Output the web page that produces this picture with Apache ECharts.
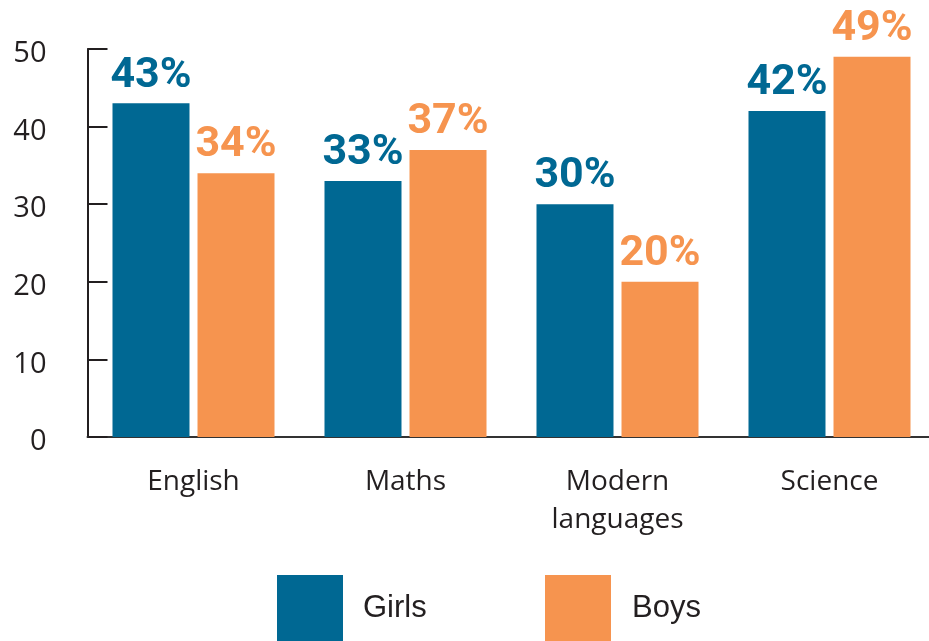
<!DOCTYPE html>
<html>
<head>
<meta charset="utf-8">
<script src="https://cdn.jsdelivr.net/npm/echarts@6/dist/echarts.min.js"></script>
<style>html,body{margin:0;padding:0;background:#fff;overflow:hidden}#c{width:940px;height:641px}</style>
</head>
<body>
<div id="c"></div>
<script>
const categories = ['English', 'Maths', 'Modern\nlanguages', 'Science'];
const girls = [43, 33, 30, 42];
const boys = [34, 37, 20, 49];
const yTicks = [0, 10, 20, 30, 40, 50];

const BLUE = '#006893';
const ORANGE = '#F6944F';
const chart = echarts.init(document.getElementById('c'));
const labelFont = {fontFamily: 'Roboto', fontWeight: 'bold', fontSize: 43};
chart.setOption({
  animation: false,
  grid: {left: 87.5, top: 49, right: 4.5, height: 388},
  legend: [
    {data: ['Girls'], left: 277, top: 575, padding: 0, itemWidth: 66, itemHeight: 66,
     icon: 'rect', textStyle: {fontFamily: 'Liberation Sans', fontSize: 31, color: '#231f20', padding: [0, 0, 0, 15]}},
    {data: ['Boys'], left: 545, top: 575, padding: 0, itemWidth: 66, itemHeight: 66,
     icon: 'rect', textStyle: {fontFamily: 'Liberation Sans', fontSize: 31, color: '#231f20', padding: [6, 0, 0, 16]}}
  ],
  xAxis: {
    type: 'category', data: categories,
    axisLine: {lineStyle: {color: '#333333', width: 2}},
    axisTick: {inside: true, length: 9, lineStyle: {color: '#333333', width: 2}},
    axisLabel: {fontFamily: 'Open Sans', fontSize: 28, color: '#231f20', lineHeight: 38, margin: 26}
  },
  yAxis: {
    type: 'value', min: yTicks[0], max: yTicks[yTicks.length - 1], interval: 10,
    splitLine: {show: false},
    axisLine: {show: true, lineStyle: {color: '#231f20', width: 2}},
    axisTick: {show: true, inside: true, length: 20, lineStyle: {color: '#231f20', width: 2}},
    axisLabel: {fontFamily: 'Open Sans', fontSize: 29, color: '#231f20', margin: 41, lineHeight: 10, verticalAlign: 'top'}
  },
  series: [
    {name: 'Girls', type: 'bar', data: girls, barWidth: 77, barGap: '10.4%',
     itemStyle: {color: BLUE},
     label: Object.assign({show: true, position: 'top', distance: 6, formatter: '{c}%', color: BLUE}, labelFont)},
    {name: 'Boys', type: 'bar', data: boys, barWidth: 77, barGap: '10.4%',
     itemStyle: {color: ORANGE},
     label: Object.assign({show: true, position: 'top', distance: 6, formatter: '{c}%', color: ORANGE}, labelFont)}
  ]
});
</script>
</body>
</html>
